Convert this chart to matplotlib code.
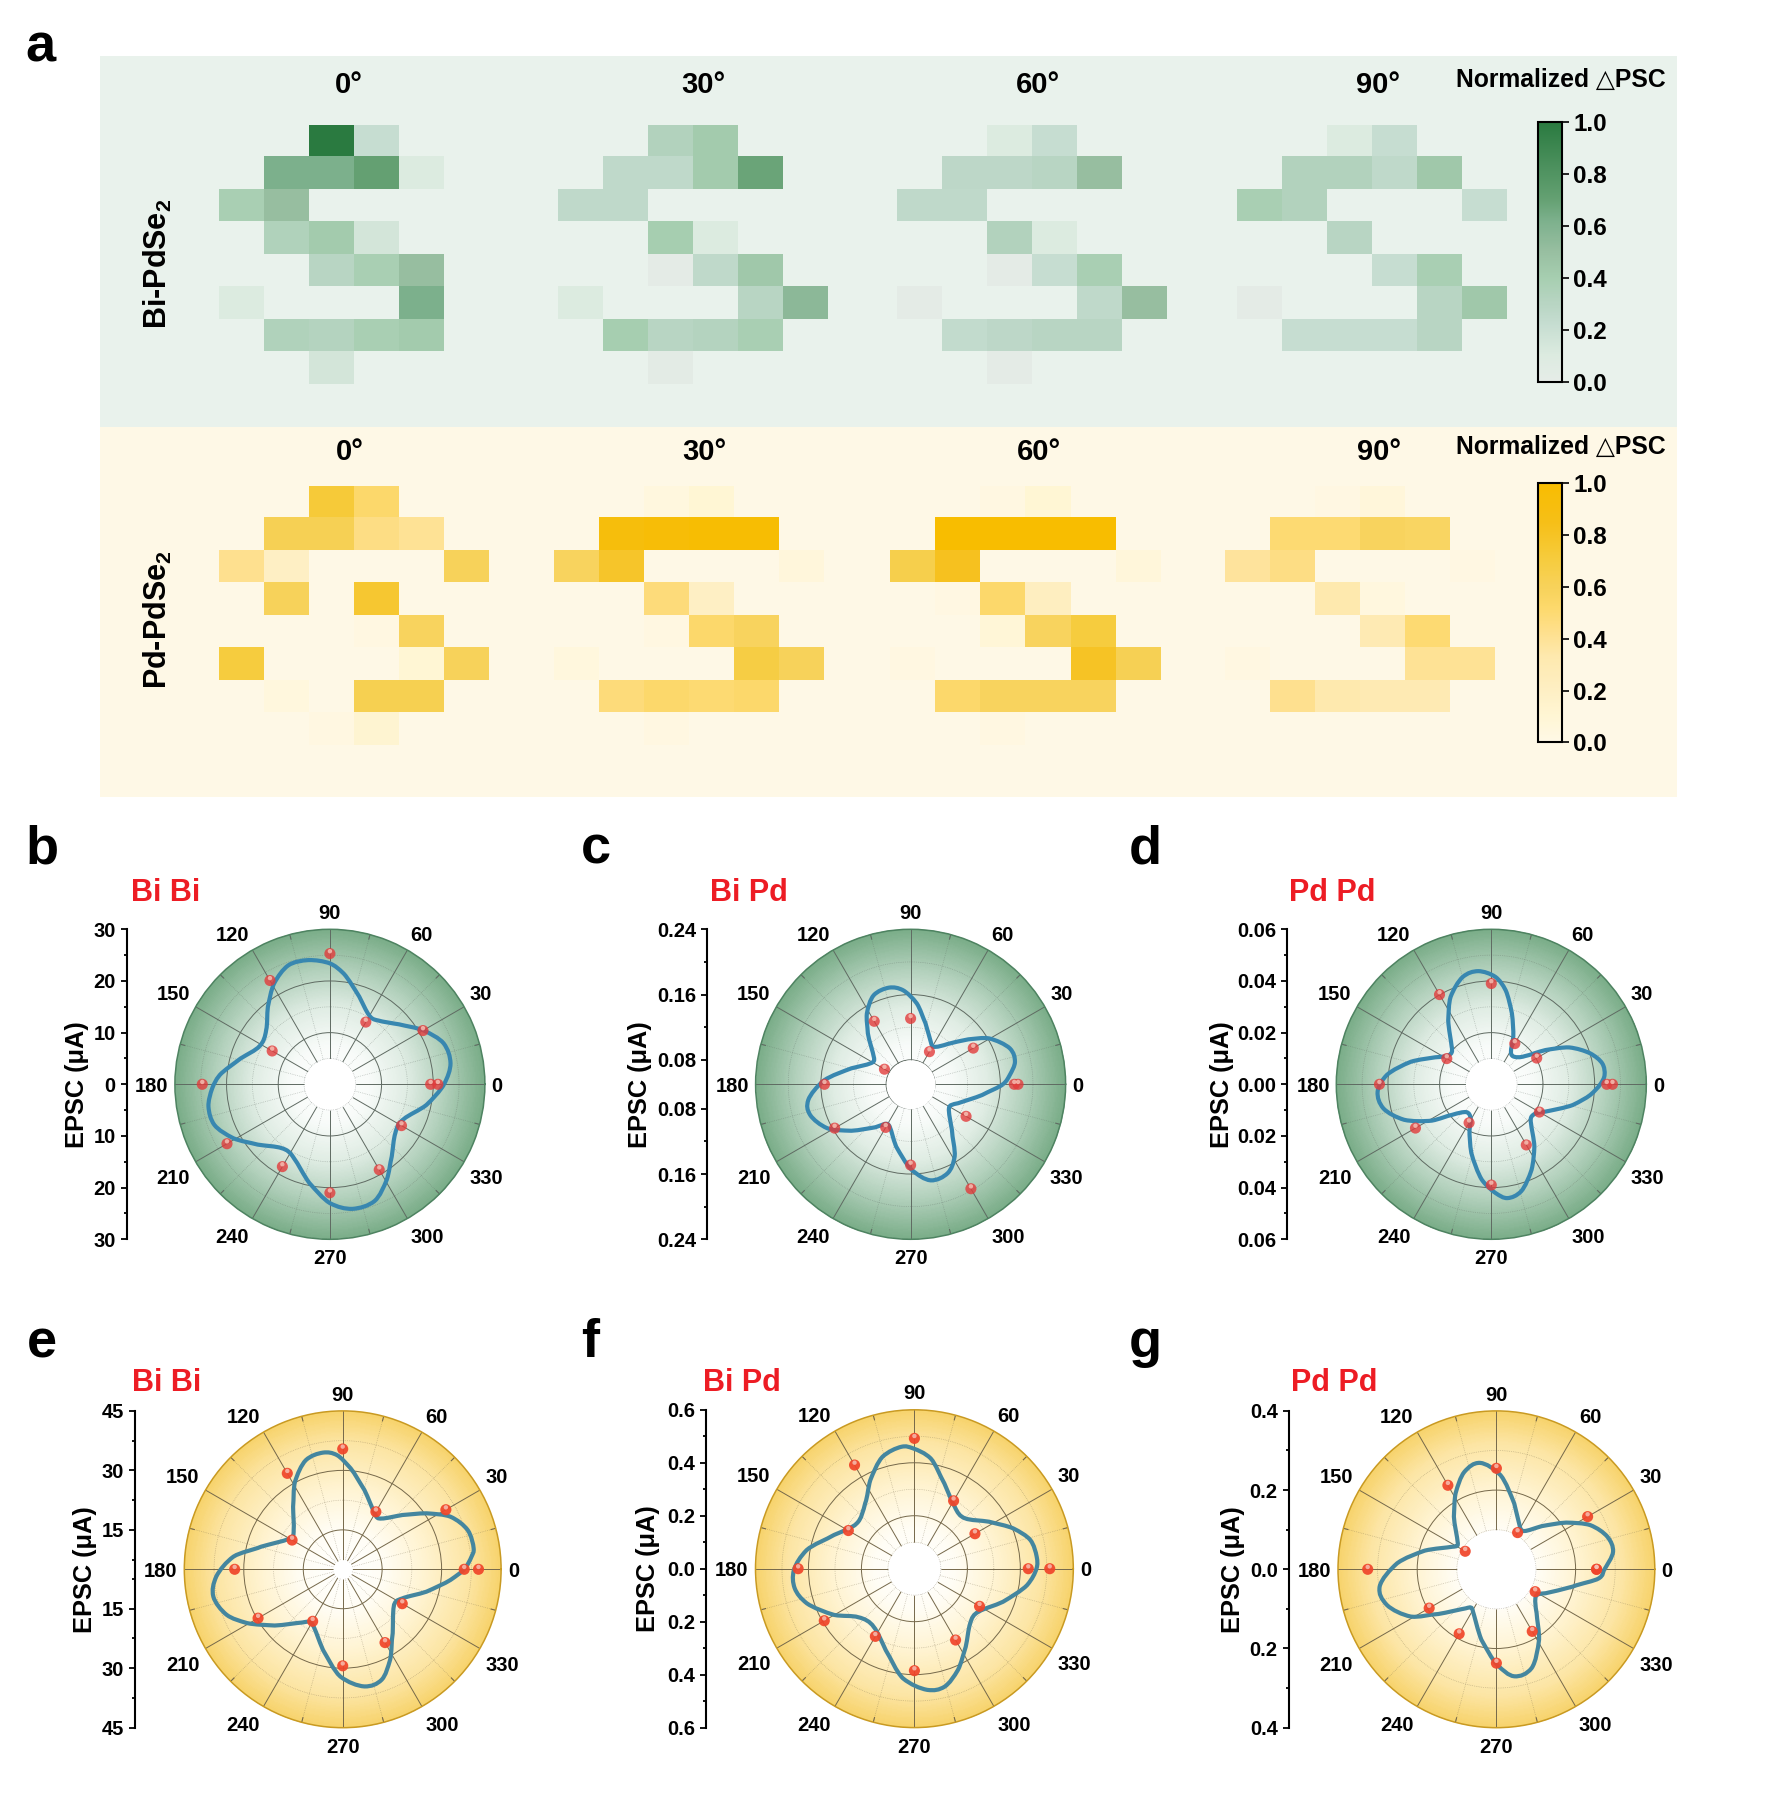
import numpy as np
import matplotlib
matplotlib.use("Agg")
import matplotlib.pyplot as plt
from matplotlib.colors import LinearSegmentedColormap
from matplotlib.patches import PathPatch, Rectangle
from matplotlib.path import Path
from matplotlib.transforms import ScaledTranslation

plt.rcParams['font.family'] = ['Liberation Sans', 'DejaVu Sans']
plt.rcParams['font.weight'] = 'bold'
plt.rcParams['mathtext.default'] = 'regular'

W, H = 1767, 1816
n = np.nan

# Panel a, normalized PSC for each pixel (blank pixels are nan)
bi_0 = [[n, n, 1.0, .22, n, n], [n, .62, .62, .70, .10, n], [.38, .50, n, n, n, n], [n, .34, .42, .15, n, n],
        [n, n, .30, .38, .50, n], [.10, n, n, n, .62, n], [n, .34, .32, .38, .42, n], [n, n, .15, n, n, n]]
bi_30 = [[n, n, .33, .42, n, n], [n, .26, .26, .42, .68, n], [.26, .26, n, n, n, n], [n, n, .40, .10, n, n],
         [n, n, .02, .26, .44, n], [.10, n, n, n, .30, .55], [n, .40, .30, .32, .38, n], [n, n, .03, n, n, n]]
bi_60 = [[n, n, .10, .22, n, n], [n, .27, .27, .30, .50, n], [.26, .26, n, n, n, n], [n, n, .33, .10, n, n],
         [n, n, .02, .22, .38, n], [.02, n, n, n, .26, .50], [n, .24, .27, .30, .30, n], [n, n, .02, n, n, n]]
bi_90 = [[n, n, .10, .22, n, n], [n, .33, .33, .26, .44, n], [.38, .33, n, n, n, .22], [n, n, .30, n, n, n],
         [n, n, n, .22, .38, n], [.02, n, n, n, .30, .44], [n, .22, .22, .22, .30, n], [n, n, n, n, n, n]]
pd_0 = [[n, n, .72, .52, n, n], [n, .62, .62, .45, .40, n], [.42, .20, n, n, n, .60], [n, .60, n, .75, n, n],
        [n, n, n, .03, .58, n], [.70, n, n, n, .10, .60], [n, .05, n, .63, .63, n], [n, n, .03, .12, n, n]]
pd_30 = [[n, n, .04, .10, n, n], [n, .92, .95, .98, .98, n], [.58, .78, n, n, n, .06], [n, n, .48, .20, n, n],
         [n, n, .03, .52, .58, n], [.05, n, n, n, .68, .60], [n, .48, .52, .50, .52, n], [n, n, .03, n, n, n]]
pd_60 = [[n, n, .03, .10, n, n], [n, 1.0, 1.0, 1.0, 1.0, n], [.65, .82, n, n, n, .07], [n, .02, .52, .22, n, n],
         [n, n, .08, .58, .70, n], [.03, n, n, n, .80, .62], [n, .52, .58, .58, .58, n], [n, n, .03, n, n, n]]
pd_90 = [[n, n, .02, .07, n, n], [n, .50, .50, .58, .56, n], [.38, .45, n, n, n, .02], [n, n, .33, .04, n, n],
         [n, n, n, .30, .50, n], [.03, n, n, n, .40, .40], [n, .42, .33, .30, .30, n], [n, n, n, n, n, n]]
heat_titles = ['0°', '30°', '60°', '90°']
cbar_ticks = [0.0, 0.2, 0.4, 0.6, 0.8, 1.0]

# Panels b-g, measured points, 0 to 360 every 30 degrees
point_angle = [0, 30, 60, 90, 120, 150, 180, 210, 240, 270, 300, 330, 360]
b_points = [20.9, 20.8, 13.9, 25.3, 23.2, 12.9, 24.7, 23.0, 18.4, 21.0, 19.1, 16.0, 19.5]
c_points = [.1817, .1387, .0962, .1307, .1392, .0870, .1556, .1575, .1110, .1490, .1978, .1285, .1771]
d_points = [.0469, .0203, .0182, .0390, .0401, .0199, .0433, .0339, .0172, .0390, .0271, .0215, .0447]
e_points = [39.3, 35.1, 21.8, 35.4, 33.0, 19.8, 32.3, 29.7, 20.2, 29.4, 26.4, 22.4, 35.7]
f_points = [.511, .264, .296, .492, .452, .288, .439, .393, .295, .385, .311, .284, .430]
g_points = [.253, .266, .107, .255, .245, .091, .325, .196, .188, .237, .181, .113, .253]

# Fitted curves
b_angle = [0, 9.9, 19.8, 30, 41, 52.8, 60.6, 71.5, 82.9, 90, 99.8, 109.2, 119, 128.7, 139.6, 151.6, 163.9, 175.2,
           182, 190.4, 199.4, 209.2, 219.9, 232.9, 244, 258.2, 270, 280.2, 290.9, 300.8, 310.6, 323.3, 334.8, 347.9]
b_curve = [22.1, 23.7, 23.4, 20.9, 17.7, 15.5, 15.4, 17.9, 21.6, 23.4, 24.4, 24.4, 22.3, 19.2, 16.2, 15.5, 18.0, 21.4,
           22.8, 23.9, 23.7, 21.4, 18.2, 15.5, 15.9, 19.5, 23.0, 24.5, 24.2, 21.5, 18.4, 15.8, 15.8, 19.1]
c_angle = [0, 5.4, 12.2, 19.9, 30.3, 37.9, 47.3, 56.2, 63.3, 76.3, 85.6, 94.6, 102.5, 112.5, 121.7, 130, 143.2, 152.6,
           164.9, 177.5, 188.7, 196.9, 207.8, 218.1, 230.7, 241.5, 256.9, 270.7, 281.8, 292.7, 301.4, 312.2, 327.9,
           338.3, 351.5]
c_curve = [.1632, .1722, .1809, .1794, .1615, .1397, .1173, .1053, .1062, .1270, .1494, .1657, .1714, .1682, .1520,
           .1315, .1064, .1057, .1252, .1564, .1769, .1788, .1655, .1423, .1180, .1066, .1283, .1549, .1703, .1680,
           .1537, .1254, .1055, .1127, .1387]
d_angle = [0, 4.7, 10.7, 17.4, 25.3, 32.3, 40.1, 50, 58.8, 65.2, 73.8, 81.3, 87.8, 96.6, 104.9, 115, 123.9, 136.6,
           145.3, 154.3, 164.3, 174.9, 183.7, 192.6, 202.2, 211.4, 218.1, 228, 238.7, 244.5, 253.8, 264.3, 272.2,
           278.1, 285.6, 295.2, 304.7, 315.6, 324, 333.3, 345.8, 353.8]
d_curve = [.0422, .0440, .0437, .0401, .0334, .0248, .0169, .0139, .0147, .0203, .0286, .0368, .0416, .0441, .0430,
           .0373, .0299, .0211, .0199, .0241, .0323, .0406, .0441, .0428, .0364, .0270, .0191, .0145, .0154, .0196,
           .0277, .0371, .0421, .0445, .0430, .0366, .0293, .0215, .0201, .0235, .0326, .0385]
e_angle = [0, 5.6, 9.1, 17.4, 26, 33.7, 42.3, 52.5, 60.2, 74.7, 85.5, 92.9, 99.6, 108.7, 118.6, 128.4, 141.3, 150.8,
           164.5, 173.4, 183.3, 191.9, 201.4, 209.4, 219.6, 232.8, 241.7, 256.3, 268.7, 280.5, 289.4, 297.7, 308.1,
           323.9, 334, 345, 354.4]
e_curve = [35.7, 37.7, 38.5, 38.1, 35.3, 30.5, 25.4, 21.2, 21.3, 25.8, 30.6, 33.9, 34.9, 34.1, 30.2, 25.2, 20.9, 20.7,
           26.4, 32.8, 37.0, 38.4, 36.5, 32.7, 27.3, 21.9, 21.0, 26.0, 32.1, 35.1, 34.6, 30.8, 25.5, 21.0, 21.8, 26.9,
           32.4]
f_angle = [0, 5.6, 13.9, 22.2, 32.2, 44.8, 56.9, 70.6, 81.6, 90.5, 96.1, 106, 116.4, 127, 141.9, 157.2, 170.2, 180.6,
           189.3, 197.8, 209.9, 220.9, 235, 250.6, 264, 276, 284.3, 293.3, 303.3, 315.6, 326.3, 339.5, 351.7]
f_curve = [.461, .464, .451, .403, .333, .270, .279, .341, .421, .454, .463, .439, .374, .309, .277, .329, .413, .455,
           .458, .427, .350, .280, .268, .326, .416, .460, .460, .416, .353, .295, .292, .357, .430]
g_angle = [0, 8.6, 16.4, 25.2, 33.8, 43.6, 53.7, 62.4, 74.8, 87.5, 98.8, 108.2, 118.2, 128.9, 144.7, 152.9, 165.4,
           176.5, 188.4, 198, 208.9, 217.6, 232, 241, 258, 270.4, 279.5, 289.6, 301.2, 312.6, 325.3, 334, 347.3, 355]
g_curve = [.273, .298, .292, .262, .212, .158, .120, .126, .172, .238, .272, .259, .218, .171, .120, .125, .187,
           .251, .298, .291, .247, .185, .125, .122, .182, .241, .274, .265, .208, .150, .121, .138, .198, .260]

theta_labels = ['0', '30', '60', '90', '120', '150', '180', '210', '240', '270', '300', '330']
# where the angle labels sit, in units of the radius
label_dx = [1.078, .973, .591, 0, -.629, -1.011, -1.149, -1.011, -.629, 0, .627, 1.007]
label_dy = [-.012, .578, .96, 1.10, .96, .578, -.012, -.606, -.988, -1.127, -.988, -.606]


def px_axes(x, y, w, h, **kwargs):
    return fig.add_axes([x / W, 1 - (y + h) / H, w / W, h / H], **kwargs)


def spline_path(angle, curve):
    # closed curve through the read points, bezier handles from the neighbours (Origin draws a spline here too)
    t = np.radians(angle)
    r = np.array(curve, dtype=float)
    count = len(t)
    verts = [(t[0], r[0])]
    for i in range(count):
        t0, t1, t2, t3 = t[i - 1], t[i], t[(i + 1) % count], t[(i + 2) % count]
        # keep the angles running upward across the 360 seam
        if i == 0:
            t0 -= 2 * np.pi
        if i + 1 >= count:
            t2 += 2 * np.pi
        if i + 2 >= count:
            t3 += 2 * np.pi
        r0, r1, r2, r3 = r[i - 1], r[i], r[(i + 1) % count], r[(i + 2) % count]
        verts.append((t1 + (t2 - t0) / 6, r1 + (r2 - r0) / 6))
        verts.append((t2 - (t3 - t1) / 6, r2 - (r3 - r1) / 6))
        verts.append((t2, r2))
    codes = [Path.MOVETO] + [Path.CURVE4] * (3 * count)
    return Path(verts, codes)


fig = plt.figure(figsize=(W / 100, H / 100), dpi=100, facecolor='white')

green_map = LinearSegmentedColormap.from_list('green_psc', [
    (0, '#e6ece8'), (.1, '#dcebe0'), (.22, '#c6ddd1'), (.3, '#b8d5c3'), (.4, '#a6ceb0'),
    (.5, '#98bfa1'), (.62, '#7cb08c'), (.7, '#65a173'), (1, '#2a7a40')])
yellow_map = LinearSegmentedColormap.from_list('yellow_psc', [
    (0, '#fff8e6'), (.1, '#fff6d4'), (.2, '#feefc4'), (.33, '#fee9ae'), (.42, '#fee08f'),
    (.52, '#fdd96c'), (.6, '#f7d25a'), (.72, '#f6cb3a'), (.85, '#f6bf18'), (1, '#f8bd00')])
green_map.set_bad((0, 0, 0, 0))
yellow_map.set_bad((0, 0, 0, 0))

# Page layer, in pixels
page = fig.add_axes([0, 0, 1, 1], zorder=-1)
page.set_xlim(0, W)
page.set_ylim(H, 0)
page.axis('off')
page.add_patch(Rectangle((100, 56), 1577, 371, facecolor='#e9f2ec', edgecolor='none'))
page.add_patch(Rectangle((100, 427), 1577, 370, facecolor='#fef8e6', edgecolor='none'))

for letter, x, y in [('a', 25, 61), ('b', 25, 864), ('c', 581, 864), ('d', 1129, 864),
                     ('e', 27, 1357), ('f', 581, 1357), ('g', 1129, 1357)]:
    page.text(x, y, letter, fontsize=39, ha='left', va='baseline', color='black')

page.text(158, 264, 'Bi-PdSe$_2$', fontsize=22, rotation=90, ha='center', va='center')
page.text(158, 620, 'Pd-PdSe$_2$', fontsize=22, rotation=90, ha='center', va='center')
page.text(1666, 80, 'Normalized △PSC', fontsize=17.8, ha='right', va='center')
page.text(1666, 447, 'Normalized △PSC', fontsize=17.8, ha='right', va='center')

for title, x in zip(heat_titles, [349, 703, 1038, 1378]):
    page.text(x, 85, title, fontsize=21, ha='center', va='center')
    page.text(x + 1, 452, title, fontsize=21, ha='center', va='center')

# Heat maps
for grid, x0 in zip([bi_0, bi_30, bi_60, bi_90], [218.6, 557.9, 896.8, 1236.6]):
    ax = px_axes(x0, 125, 270, 259.3)
    green_im = ax.imshow(np.array(grid, dtype=float), cmap=green_map, vmin=0, vmax=1, aspect='auto',
                         interpolation='nearest')
    ax.axis('off')
for grid, x0 in zip([pd_0, pd_30, pd_60, pd_90], [218.6, 553.8, 889.7, 1224.9]):
    ax = px_axes(x0, 486, 270, 259.3)
    yellow_im = ax.imshow(np.array(grid, dtype=float), cmap=yellow_map, vmin=0, vmax=1, aspect='auto',
                          interpolation='nearest')
    ax.axis('off')

for im, y0, h in [(green_im, 121.7, 260), (yellow_im, 483.3, 259)]:
    cax = px_axes(1538, y0, 24, h)
    cbar = fig.colorbar(im, cax=cax)
    cbar.set_ticks(cbar_ticks)
    cbar.ax.tick_params(labelsize=17.5, length=5, width=1.2, pad=3)
    cbar.outline.set_linewidth(1.5)

green_bg = LinearSegmentedColormap.from_list('green_bg', [
    (0, '#ffffff'), (.25, '#f8fbf9'), (.5, '#dfece3'), (.75, '#b0cfba'), (1, '#7aad88')])
yellow_bg = LinearSegmentedColormap.from_list('yellow_bg', [
    (0, '#ffffff'), (.25, '#fffdf5'), (.5, '#fff4d4'), (.8, '#fce5a4'), (1, '#f7d36c')])


def polar_panel(cx, cy, radius, axis_x, label_x, title, title_x, title_y, angle, curve, points,
                rmin, rmax, hole, rings, dots, ticks, tick_text, minor, bg, edge, grid_color, line_color, ball, ball_alpha):
    ax = px_axes(cx - radius, cy - radius, 2 * radius, 2 * radius, projection='polar')
    ax.set_facecolor('white')
    ax.set_rlim(rmin, rmax)
    ax.set_axisbelow(True)

    # radial shading under everything
    th = np.linspace(0, 2 * np.pi, 181)
    rr = np.linspace(rmin, rmax, 121)
    tt, rg = np.meshgrid(th, rr)
    ax.pcolormesh(tt, rg, (rg - rmin) / (rmax - rmin), cmap=bg, shading='nearest', zorder=0, rasterized=True)

    ax.set_thetagrids(np.arange(0, 360, 30), labels=[])
    ax.set_rgrids(rings, labels=[])
    ax.set_rlim(rmin, rmax)
    ax.grid(True, color=grid_color, linewidth=0.7)
    ax.fill_between(th, rmin, hole, color='white', zorder=1, linewidth=0)

    # dotted minor grid
    for r in dots:
        ax.plot(th, np.full_like(th, r), color=grid_color, alpha=0.5, linewidth=0.5, linestyle=':', zorder=1.5)
    for a in np.arange(15, 360, 30):
        ax.plot(np.radians([a, a]), [hole, rmax], color=grid_color, alpha=0.5, linewidth=0.5, linestyle=':', zorder=1.5)
        ax.plot(np.radians([a, a]), [rmax - 0.03 * (rmax - rmin), rmax], color=grid_color, linewidth=0.8, zorder=1.5)

    ax.add_patch(PathPatch(spline_path(angle, curve), fill=False, edgecolor=line_color, linewidth=3,
                           joinstyle='round', zorder=3))
    ax.scatter(np.radians(point_angle), points, s=64, color=ball, alpha=ball_alpha, edgecolors='none', zorder=4)
    shine = ax.transData + ScaledTranslation(0, 1.7 / 72, fig.dpi_scale_trans)
    ax.scatter(np.radians(point_angle), points, s=10, color='#f7c4b8', alpha=0.8, edgecolors='none', zorder=5,
               transform=shine)
    ax.set_rlim(rmin, rmax)

    ax.spines['polar'].set_color(edge)
    ax.spines['polar'].set_linewidth(1.1)
    for text, dx, dy in zip(theta_labels, label_dx, label_dy):
        ax.text(0.5 + 0.5 * dx, 0.5 + 0.5 * dy, text, transform=ax.transAxes, fontsize=14.5, ha='center', va='center')

    # the radial scale is drawn as its own axis, mirrored about the centre
    span = rmax - rmin
    sc = px_axes(axis_x, cy - radius, 20, 2 * radius)
    sc.patch.set_alpha(0)
    sc.set_ylim(-span, span)
    sc.set_xticks([])
    for side in ['top', 'right', 'bottom']:
        sc.spines[side].set_visible(False)
    sc.spines['left'].set_linewidth(1.5)
    sc.set_yticks([t - rmin if s > 0 else rmin - t for t, s in ticks])
    sc.set_yticklabels(tick_text)
    sc.set_yticks(minor, minor=True)
    sc.tick_params(axis='y', which='major', length=4, width=1.3, labelsize=14.5, pad=4)
    sc.tick_params(axis='y', which='minor', length=2, width=1.3)

    page.text(label_x, cy, 'EPSC (μA)', fontsize=18.3, rotation=90, ha='center', va='center')
    page.text(title_x, title_y, title, fontsize=22, color='#ed1c24', ha='left', va='center')


def mirrored(values):
    # top half then bottom half of a mirrored scale
    return [(v, 1) for v in values[::-1]] + [(v, -1) for v in values]


def minor_ticks(values, rmin):
    return [v - rmin for v in values] + [rmin - v for v in values]


green_style = (green_bg, '#4e8361', '#5f6a62', '#3887b0', '#e23b3b', 0.8)
yellow_style = (yellow_bg, '#c99a22', '#75684a', '#44869f', '#f0452a', 0.93)

polar_panel(329.9, 1084.3, 155, 126.7, 76.8, 'Bi Bi', 131, 892.7, b_angle, b_curve, b_points, 0, 30, 5,
            [10, 20], [5, 15, 25], [(30, 1), (20, 1), (10, 1), (0, 1), (10, -1), (20, -1), (30, -1)],
            ['30', '20', '10', '0', '10', '20', '30'], minor_ticks([5, 15, 25], 0), *green_style)
polar_panel(910.6, 1084.3, 155, 707.4, 639.6, 'Bi Pd', 709.5, 892.7, c_angle, c_curve, c_points, .05, .24, .08,
            [.08, .16], [.12, .20], mirrored([.08, .16, .24]),
            ['0.24', '0.16', '0.08', '0.08', '0.16', '0.24'], minor_ticks([.12, .20], .05), *green_style)
polar_panel(1491.3, 1084.3, 155, 1287.4, 1221.7, 'Pd Pd', 1288.8, 892.7, d_angle, d_curve, d_points, 0, .06, .01,
            [.02, .04], [.01, .03, .05], [(.06, 1), (.04, 1), (.02, 1), (0, 1), (.02, -1), (.04, -1), (.06, -1)],
            ['0.06', '0.04', '0.02', '0.00', '0.02', '0.04', '0.06'], minor_ticks([.01, .03, .05], 0), *green_style)
polar_panel(342.7, 1569.3, 158.4, 135.4, 85.4, 'Bi Bi', 132, 1382.7, e_angle, e_curve, e_points, 5.06, 45, 7.5,
            [15, 30], [22.5, 37.5], mirrored([15, 30, 45]),
            ['45', '30', '15', '15', '30', '45'], minor_ticks([7.5, 22.5, 37.5], 5.06), *yellow_style)
polar_panel(914.4, 1568.7, 158.9, 706, 648.2, 'Bi Pd', 703.3, 1382.7, f_angle, f_curve, f_points, 0, .6, .1,
            [.2, .4], [.1, .3, .5], [(.6, 1), (.4, 1), (.2, 1), (0, 1), (.2, -1), (.4, -1), (.6, -1)],
            ['0.6', '0.4', '0.2', '0.0', '0.2', '0.4', '0.6'], minor_ticks([.1, .3, .5], 0), *yellow_style)
polar_panel(1496.4, 1569.3, 158.4, 1288.8, 1233, 'Pd Pd', 1291.2, 1383, g_angle, g_curve, g_points, 0, .4, .1,
            [.2], [.1, .3], [(.4, 1), (.2, 1), (0, 1), (.2, -1), (.4, -1)],
            ['0.4', '0.2', '0.0', '0.2', '0.4'], minor_ticks([.1, .3], 0), *yellow_style)

fig.savefig('out.png', dpi=100)
